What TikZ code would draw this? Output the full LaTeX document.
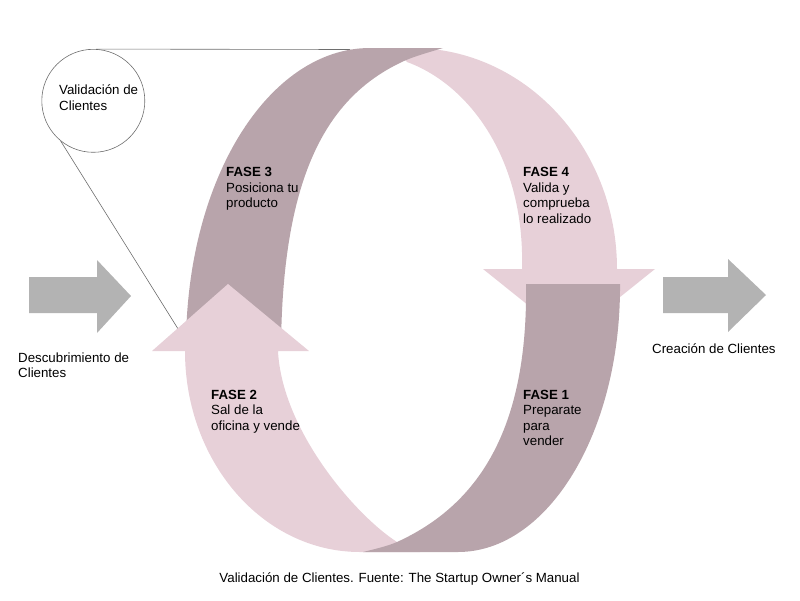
\documentclass[tikz,border=0pt]{standalone}
\usepackage{fontspec}
\setmainfont{Liberation Sans}
\usetikzlibrary{positioning}

\definecolor{mauve}{RGB}{184,164,171}
\definecolor{blush}{RGB}{231,208,216}
\definecolor{greyarrow}{RGB}{179,179,179}
\definecolor{thinline}{RGB}{110,110,110}

\begin{document}
\begin{tikzpicture}[x=1pt,y=-1pt,
    fasetext/.style={align=left,anchor=north west,inner sep=0pt,font=\phasefontsize,
      execute at begin node={\rule{0pt}{\strutheight pt}}},
    callout/.style={draw=thinline,line width=0.6pt}]
    \pgfmathsetmacro{\strutheight}{11}
    \pgfmathsetmacro{\ringradius}{51.5}
    \providecommand{\phasefontsize}{\fontsize{13.3}{15.5}\selectfont}
    \useasboundingbox (0,0) rectangle (800,600);
    % circle with the two lines towards the ring
    \node[circle,draw=thinline,line width=0.6pt,minimum size=2*\ringradius pt,inner sep=0pt] (valid) at (93.3,100.8) {};
    \node[fasetext] (validtext) at (59,84.7) {Validación de\\Clientes};
    \coordinate (ringtop) at (350,49.5);
    \coordinate (ringleft) at (180,332);
    \draw[callout] (valid.87) -- (ringtop);
    \draw[callout] (valid.231) -- (ringleft);
    % FASE 4 band, pointing down
    \fill[blush] (395,48) -- (412,48) .. controls (525,48) and (617,147) .. (617,269)
        -- (655,269) -- (569,338) -- (483,269) -- (522,269)
        .. controls (525,160) and (470,85) .. (407,62) -- cycle;
    % FASE 3 band
    \fill[mauve] (186,350) .. controls (185,181) and (268,48) .. (370,48) -- (443,48)
        .. controls (430,52) and (415,56) .. (404,61)
        .. controls (330,95) and (282,170) .. (281,350) -- cycle;
    % FASE 2 band, pointing up
    \fill[blush] (185,351) -- (152,351) -- (228,284) -- (309,351) -- (278,351)
        .. controls (282,430) and (355,515) .. (397,542)
        -- (420,552) -- (360,552) .. controls (263,552) and (185,462) .. (185,351) -- cycle;
    % FASE 1 band
    \fill[mauve] (526,284) -- (620,284) .. controls (621,432) and (548,552) .. (458,552)
        -- (363,552) .. controls (375,549) and (388,546) .. (397,542)
        .. controls (478,505) and (528,430) .. (526,284) -- cycle;
    % grey arrows in and out
    \fill[greyarrow] (29,277) -- (97,277) -- (97,260) -- (131,296) -- (97,333) -- (97,313) -- (29,313) -- cycle;
    \fill[greyarrow] (663,277) -- (728,277) -- (728,259) -- (766,295) -- (728,332) -- (728,313) -- (663,313) -- cycle;
    \node[fasetext] (descub) at (18,352.3) {Descubrimiento de\\Clientes};
    \node[fasetext] (creacion) at (652,342.3) {Creación de Clientes};
    \node[fasetext] (fase3) at (226,167.3) {\textbf{FASE 3}\\Posiciona tu\\producto};
    \node[fasetext] (fase4) at (523,167.3) {\textbf{FASE 4}\\Valida y\\comprueba\\lo realizado};
    \node[fasetext] (fase2) at (211,389.7) {\textbf{FASE 2}\\Sal de la\\oficina y vende};
    \node[fasetext] (fase1) at (523,389.7) {\textbf{FASE 1}\\Preparate\\para\\vender};
    \node[fasetext,anchor=north] (caption) at (399.5,571.3) {Validación de Clientes. Fuente: The Startup Owner´s Manual};
\end{tikzpicture}
\end{document}
